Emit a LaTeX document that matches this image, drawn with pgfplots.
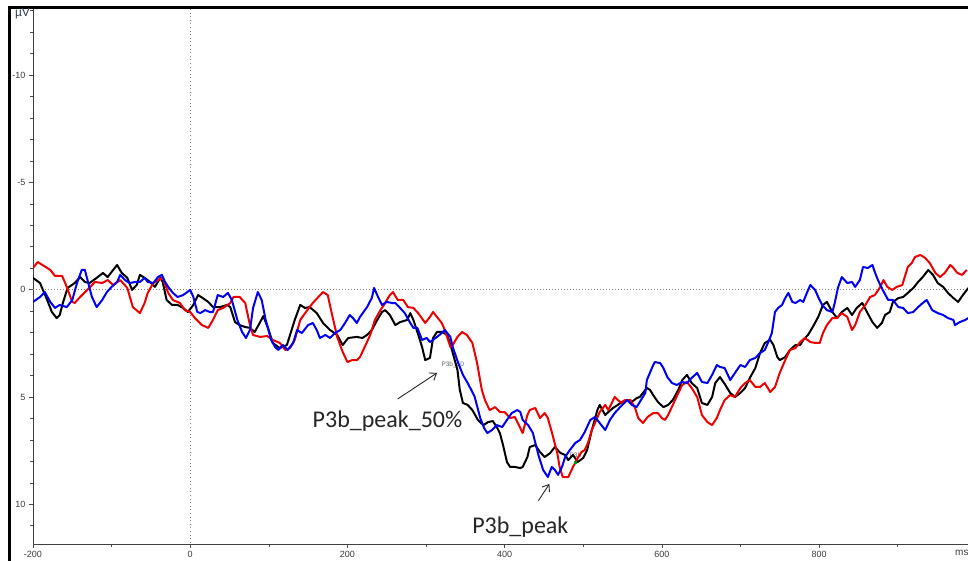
\documentclass[border=0pt]{standalone}
\usepackage{pgfplots}
\pgfplotsset{compat=1.18}
\usepackage{fontspec}
\setmainfont{Liberation Sans}
\newfontfamily\calibri{Carlito}
\usetikzlibrary{arrows.meta}

\definecolor{tracered}{RGB}{240,0,0}
\definecolor{traceblue}{RGB}{0,0,245}
\definecolor{ticktext}{RGB}{60,60,60}
\definecolor{unittext}{RGB}{50,60,90}
\definecolor{notetext}{RGB}{38,38,38}

\begin{document}
\begin{tikzpicture}[x=1pt,y=1pt]
\useasboundingbox (0,0) rectangle (968,561);
\fill[white] (0,0) rectangle (968,561);
\begin{axis}[
  at={(504.6pt,284.5pt)}, anchor=center,
  scale only axis, width=943.2pt, height=535pt,
  xmin=-200, xmax=1000, ymin=-13.08, ymax=11.85, y dir=reverse,
  axis x line=bottom, axis y line=left,
  axis line style={-, black!75, line width=0.8pt},
  xtick={-200,0,200,400,600,800}, xticklabels={-200,0,200,400,600,800},
  minor xtick={-100,100,300,500,700,900},
  ytick={-10,-5,0,5,10}, yticklabels={-10,-5,0,5,10},
  minor ytick={-13,-12,...,11},
  tick align=outside, major tick length=4pt, minor tick length=3pt,
  every tick/.style={black!70, line width=0.6pt},
  ticklabel style={font=\fontsize{9}{10}\selectfont, text=ticktext},
  clip=true,
]
% zero reference lines
\draw[gray, line width=0.7pt, dash pattern=on 0.8pt off 2.2pt] (axis cs:-200,0) -- (axis cs:1000,0);
\draw[gray, line width=0.7pt, dash pattern=on 0.8pt off 2.8pt] (axis cs:0,-13.08) -- (axis cs:0,11.85);
% latency markers
\node[font=\fontsize{6.5}{7}\selectfont, text=black!60] at (axis cs:334,3.51) {P3b\_50};
\node[font=\fontsize{6.5}{7}\selectfont, text=black!60] at (axis cs:490,7.70) {P3b};

% condition 1 (black)
\addplot[black, line width=2pt, line join=round] coordinates {
(-200,-0.55) (-191,-0.31) (-182,0.48) (-176,1.04) (-170,1.32) (-166,1.18) (-162,0.62) (-156,-0.08)
(-147,-0.31) (-140,-0.59) (-134,-0.36) (-128,-0.31) (-119,-0.55) (-111,-0.78) (-105,-0.59) (-98,-0.92)
(-93,-1.15) (-87,-0.78) (-80,-0.55) (-74,0.01) (-68,-0.22) (-64,-0.69) (-58,-0.55) (-51,-0.36)
(-45,-0.13) (-38,-0.55) (-35,-0.36) (-30,0.48) (-23,0.71) (-16,0.71) (-9,0.85) (-3,1.04)
(4,0.71) (10,0.25) (16,0.39) (23,0.57) (29,0.81) (38,0.81) (47,0.71) (51,0.81)
(57,1.51) (63,1.65) (70,1.74) (76,1.78) (82,1.97) (89,1.51) (93,1.23) (99,1.78)
(105,2.48) (114,2.72) (123,2.58) (133,1.41) (140,0.71) (146,0.85) (152,0.81) (161,1.09)
(169,1.55) (178,1.88) (187,2.11) (194,2.58) (201,2.25) (212,2.20) (219,2.25) (225,2.11)
(231,1.88) (238,1.41) (244,1.04) (248,0.95) (254,1.18) (261,1.65) (267,1.51) (276,1.41)
(280,1.09) (284,1.41) (289,1.97) (295,2.67) (299,3.28) (305,3.18) (309,2.25) (314,1.97)
(320,1.97) (327,2.11) (333,2.81) (340,3.74) (343,4.67) (347,5.28) (353,5.37) (359,5.61)
(366,6.07) (373,6.31) (379,6.17) (385,6.12) (390,6.40) (394,6.68) (398,7.24) (403,8.03)
(407,8.26) (413,8.26) (420,8.31) (423,8.26) (429,7.80) (432,7.33) (439,7.24) (445,7.56)
(451,7.80) (458,7.61) (464,7.33) (471,7.61) (477,7.70) (481,7.94) (487,7.70) (493,8.03)
(500,7.84) (505,7.47) (511,6.54) (518,5.61) (521,5.37) (528,5.84) (532,5.70) (538,5.51)
(544,5.37) (549,5.23) (556,5.14) (562,5.23) (568,5.05) (572,5.00) (576,4.81) (581,4.58)
(585,4.67) (589,4.91) (595,5.23) (602,5.47) (608,5.37) (614,5.14) (621,4.67) (626,4.21)
(632,3.97) (638,4.35) (645,4.58) (651,5.28) (658,5.37) (664,5.00) (668,4.35) (674,4.07)
(680,4.39) (687,4.81) (693,5.00) (700,4.81) (706,4.58) (712,4.11) (719,3.65) (725,2.95)
(731,2.48) (738,2.34) (742,2.58) (747,3.14) (750,3.28) (757,3.14) (763,2.81) (770,2.58)
(776,2.58) (780,2.34) (786,2.11) (792,1.74) (799,1.27) (805,0.71) (810,0.57) (817,1.04)
(823,1.32) (829,1.04) (836,0.85) (842,1.18) (848,0.85) (855,0.62) (861,1.04) (868,1.51)
(874,1.78) (880,1.55) (884,1.18) (890,1.04) (894,0.57) (901,0.39) (907,0.34) (913,0.15)
(920,-0.08) (926,-0.36) (932,-0.59) (939,-0.92) (945,-0.69) (951,-0.31) (958,-0.13) (964,0.15)
(971,0.39) (977,0.57) (983,0.25) (990,-0.08)
};

% condition 2 (red)
\addplot[tracered, line width=2pt, line join=round] coordinates {
(-200,-1.01) (-194,-1.29) (-178,-0.92) (-172,-0.64) (-163,-0.64) (-159,-0.31) (-150,0.57) (-147,0.62)
(-140,0.34) (-131,0.01) (-121,-0.36) (-112,-0.31) (-105,-0.45) (-98,-0.22) (-89,-0.45) (-80,-0.08)
(-73,0.81) (-64,1.09) (-58,0.62) (-54,0.15) (-47,-0.31) (-41,-0.45) (-35,-0.55) (-28,0.15)
(-22,0.48) (-13,0.62) (-7,0.95) (0,1.04) (6,1.32) (15,1.65) (23,1.78) (29,1.41)
(35,0.95) (42,0.85) (51,0.62) (55,0.34) (63,0.34) (70,0.62) (76,1.65) (80,2.11)
(89,2.20) (98,2.16) (105,2.34) (114,2.48) (121,2.81) (127,2.72) (133,2.34) (140,1.41)
(149,0.95) (156,0.62) (163,0.34) (169,0.11) (175,0.25) (180,1.09) (187,2.20) (194,2.90)
(200,3.37) (206,3.28) (212,3.28) (216,3.14) (222,2.67) (229,2.11) (235,1.41) (242,0.95)
(248,0.62) (254,0.25) (258,0.11) (264,0.48) (271,0.48) (277,0.81) (284,0.85) (290,1.09)
(299,1.55) (305,1.27) (309,1.04) (314,1.27) (320,1.55) (324,1.88) (331,2.67) (334,2.58)
(340,2.20) (346,1.97) (352,2.11) (359,2.48) (365,3.42) (371,4.67) (375,5.14) (381,5.61)
(388,5.47) (394,5.70) (400,5.70) (407,5.98) (413,5.93) (420,6.45) (423,6.68) (429,5.84)
(432,5.61) (439,5.51) (445,5.98) (451,5.75) (455,5.98) (460,6.63) (467,7.61) (470,8.26)
(474,8.73) (481,8.73) (487,8.26) (493,7.84) (498,7.56) (502,7.47) (506,7.14) (511,6.54)
(515,6.21) (521,5.70) (528,5.37) (532,5.61) (537,5.23) (540,5.00) (544,5.14) (549,5.28)
(553,5.14) (560,5.14) (566,5.51) (570,5.98) (576,6.21) (582,5.93) (589,5.75) (595,5.75)
(600,5.98) (604,6.07) (608,5.84) (614,5.37) (621,4.81) (626,4.44) (632,4.30) (638,4.58)
(645,5.00) (651,5.84) (658,6.17) (664,6.31) (670,5.98) (674,5.61) (680,5.14) (687,4.91)
(693,5.00) (700,4.58) (706,4.35) (712,4.21) (719,4.53) (725,4.53) (731,4.35) (738,4.77)
(744,4.53) (750,3.88) (757,3.28) (763,2.81) (770,2.72) (776,2.44) (782,2.25) (789,2.44)
(795,2.48) (801,2.48) (805,2.02) (810,1.65) (817,1.32) (823,1.32) (829,1.09) (836,1.27)
(842,1.88) (846,1.65) (852,1.04) (859,0.71) (865,0.34) (871,0.25) (878,-0.13) (882,-0.45)
(887,-0.13) (893,0.01) (899,-0.13) (906,-0.22) (909,-0.59) (913,-1.06) (918,-1.24) (922,-1.52)
(929,-1.62) (935,-1.48) (941,-1.24) (948,-0.78) (954,-0.59) (960,-0.78) (967,-1.15) (970,-1.06)
(976,-0.78) (982,-0.69) (988,-0.92)
};

% condition 3 (blue)
\addplot[traceblue, line width=2pt, line join=round] coordinates {
(-200,0.57) (-191,0.34) (-185,0.11) (-178,0.57) (-172,0.85) (-166,0.71) (-157,0.81) (-150,0.48)
(-144,-0.31) (-138,-0.92) (-134,-0.92) (-130,-0.36) (-125,0.34) (-119,0.81) (-112,0.48) (-106,0.11)
(-100,-0.13) (-93,-0.36) (-89,-0.69) (-83,-0.45) (-77,-0.31) (-70,-0.36) (-64,-0.36) (-58,-0.55)
(-54,-0.36) (-47,-0.31) (-41,-0.59) (-36,-0.69) (-32,-0.36) (-28,-0.13) (-22,0.15) (-16,0.34)
(-9,0.25) (0,0.01) (4,0.34) (9,1.04) (13,1.09) (19,0.95) (25,1.04) (29,1.04)
(35,0.25) (42,0.34) (48,0.15) (53,0.48) (60,1.41) (66,1.97) (71,2.25) (76,1.88)
(80,0.85) (86,0.11) (91,0.48) (96,1.41) (103,2.34) (108,2.67) (112,2.81) (118,2.58)
(124,2.81) (131,2.48) (136,1.88) (142,2.02) (150,1.65) (156,1.55) (161,1.88) (165,2.25)
(172,2.11) (178,2.25) (184,2.02) (191,1.88) (197,1.55) (203,1.18) (207,1.32) (212,1.55)
(216,1.27) (225,0.81) (231,0.39) (234,-0.08) (239,0.34) (244,0.71) (250,0.57) (257,0.62)
(261,0.62) (267,0.85) (273,1.09) (280,1.55) (284,1.78) (289,1.78) (295,2.34) (301,2.25)
(305,2.44) (314,2.20) (320,2.02) (324,1.88) (331,2.20) (334,2.67) (341,3.42) (347,3.97)
(353,4.35) (359,4.77) (362,5.00) (369,5.98) (374,6.45) (378,6.68) (384,6.54) (390,6.31)
(397,6.40) (403,6.07) (409,5.75) (416,5.61) (420,5.70) (423,6.07) (430,6.31) (436,6.68)
(443,7.70) (449,8.40) (455,8.73) (460,8.26) (464,8.40) (468,8.63) (473,8.26) (477,7.80)
(483,7.47) (490,7.14) (496,7.00) (502,6.63) (509,6.07) (515,5.93) (521,6.21) (528,6.54)
(534,6.07) (540,5.75) (547,5.47) (556,5.14) (562,5.37) (568,5.47) (572,5.23) (579,4.81)
(581,4.21) (588,3.60) (591,3.37) (598,3.42) (602,3.65) (607,4.07) (613,4.35) (619,4.44)
(626,4.30) (632,4.35) (638,4.11) (645,3.88) (651,4.30) (658,4.35) (664,3.97) (670,3.51)
(674,3.60) (680,3.65) (687,4.21) (693,3.88) (700,3.51) (706,3.60) (712,3.28) (719,3.18)
(725,2.95) (731,2.81) (735,2.48) (740,2.02) (744,1.04) (748,0.85) (753,0.71) (757,0.39)
(761,0.15) (766,0.57) (770,0.62) (776,0.48) (780,0.57) (785,0.11) (789,-0.22) (795,0.01)
(799,0.34) (804,0.71) (810,0.95) (817,1.04) (820,0.62) (824,-0.08) (829,-0.59) (836,-0.31)
(842,-0.36) (846,-0.13) (852,-0.45) (856,-1.06) (862,-1.01) (868,-1.15) (871,-0.82) (875,-0.45)
(881,0.01) (888,0.48) (894,0.48) (901,0.81) (907,0.85) (913,1.09) (920,1.04) (926,0.81)
(932,0.62) (937,0.48) (944,0.95) (951,1.09) (958,1.18) (964,1.32) (971,1.41) (973,1.65)
(979,1.51) (986,1.41) (990,1.32)
};

% peak marker
\addplot[only marks, mark=square*, mark size=1.2pt, green!60!black] coordinates {(490,8.05)};

% annotations
\node[font=\calibri\fontsize{24}{28}\selectfont, text=notetext] at (axis cs:251,6.12) {P3b\_peak\_50\%};
\draw[-{Straight Barb[length=6pt,width=9pt]}, line width=0.9pt, notetext] (axis cs:264,5.09) -- (axis cs:314,3.88);
\node[font=\calibri\fontsize{24}{28}\selectfont, text=notetext] at (axis cs:420,11.05) {P3b\_peak};
\draw[-{Straight Barb[length=6pt,width=9pt]}, line width=0.9pt, notetext] (axis cs:443,9.83) -- (axis cs:457,9.05);
\end{axis}

% frame and unit labels
\draw[black, line width=2.6pt] (9.5,0) -- (9.5,553.2) -- (968,553.2);
\node[font=\fontsize{12}{13}\selectfont, text=unittext, inner sep=0pt] at (22.5,547) {µV};
\node[font=\fontsize{10}{11}\selectfont, text=ticktext, anchor=west, inner sep=0pt] at (955,8) {ms};
\end{tikzpicture}
\end{document}
